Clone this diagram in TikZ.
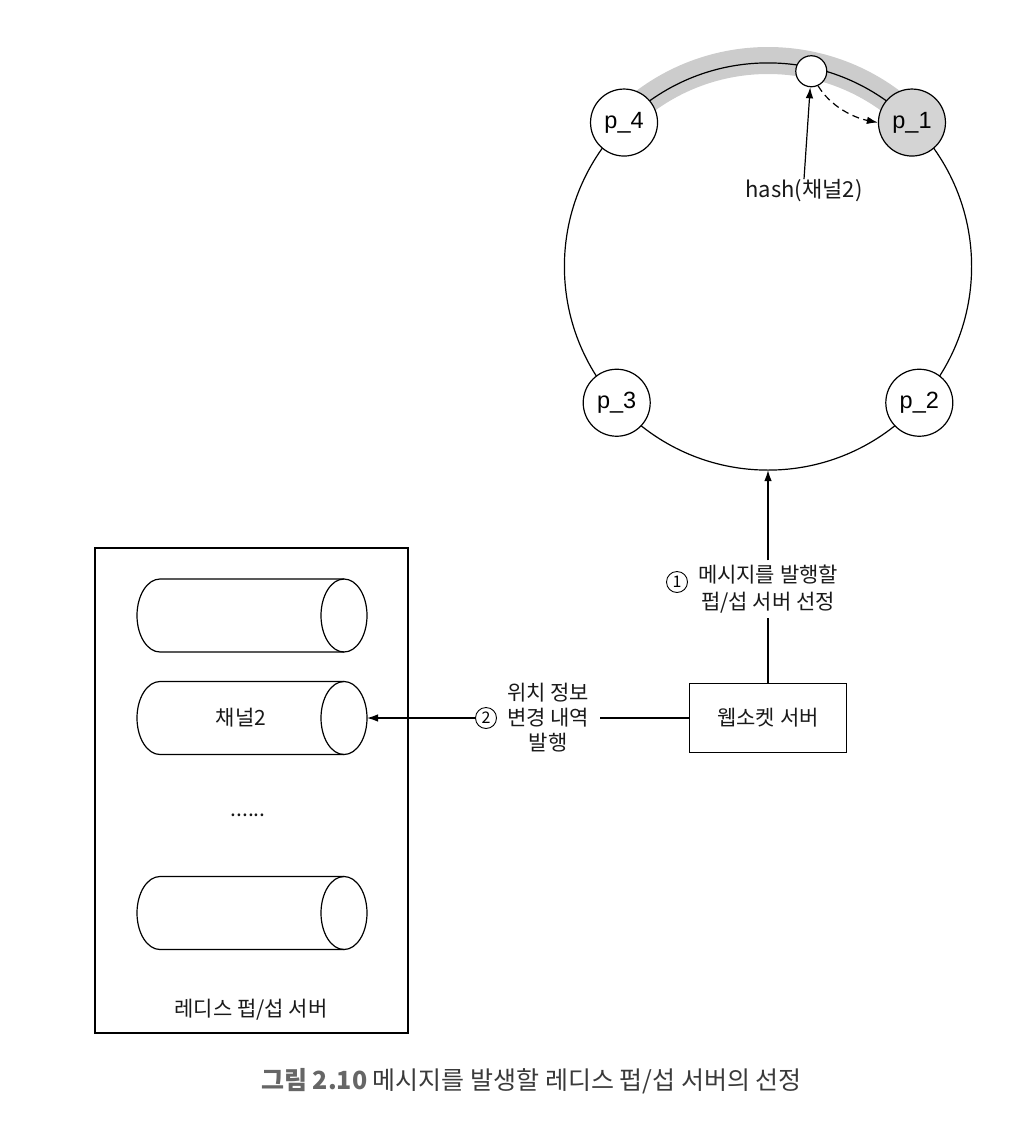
\documentclass[tikz,border=0pt]{standalone}
\usepackage{fontspec}
\setmainfont{Noto Sans CJK KR}
\newfontfamily\latf{Liberation Sans}
\usetikzlibrary{arrows.meta}
\definecolor{bandgray}{HTML}{CCCCCC}
\definecolor{pfill}{HTML}{D4D4D4}
\definecolor{capgray}{HTML}{666666}
\definecolor{captext}{HTML}{3A3A3A}
\newcommand\drawcyl[1]{%
  \draw (344,#1-36.5) -- (160,#1-36.5) arc[start angle=-90, end angle=-270, x radius=23, y radius=36.5] -- (344,#1+36.5);
  \draw (344,#1) ellipse[x radius=23, y radius=36.5];
}
\begin{document}
\begin{tikzpicture}[x=1pt,y=-1pt,
  line width=1.2pt,
  txt/.style={font=\fontsize{21}{26}\selectfont, inner sep=0pt, text=black!90},
  pnode/.style={circle, draw, fill=white, minimum size=67pt, inner sep=0pt, font=\latf\fontsize{23.5}{26}\selectfont},
  cnum/.style={circle, draw, line width=0.9pt, minimum size=21pt, inner sep=0pt, font=\fontsize{16}{18}\selectfont},
  arr/.style={-{Latex[length=11pt,width=7.5pt]}},
  boxnode/.style={draw, inner sep=0pt}]
\useasboundingbox (0,0) rectangle (1024,1125);
% ring
\coordinate (rc) at (768,266.5);
\fill[bandgray] ([shift={(-135:219.5)}]rc) arc[start angle=-135, end angle=-45, radius=219.5]
  -- ([shift={(-45:192.5)}]rc) arc[start angle=-45, end angle=-135, radius=192.5] -- cycle;
\draw (rc) circle[radius=203.6];
\node[pnode] (p4) at ([shift={(-135:203.6)}]rc) {p\_4};
\node[pnode, fill=pfill] (p1) at ([shift={(-45:203.6)}]rc) {p\_1};
\node[pnode] (p3) at ([shift={(138:203.6)}]rc) {p\_3};
\node[pnode] (p2) at ([shift={(42:203.6)}]rc) {p\_2};
\node[circle, draw, fill=white, minimum size=31pt, inner sep=0pt] (sm) at ([shift={(-77.5:200)}]rc) {};
\coordinate (rb) at ([shift={(90:203.6)}]rc);
% hash label
\node[txt, font=\fontsize{22}{26}\selectfont] (hash) at (804,191) {hash(채널2)};
\draw[arr] (hash.north) -- (sm);
\draw[arr, dash pattern=on 7pt off 4.5pt] (sm.-65) .. controls +(12,20) and +(-25,-5) .. (p1.west);
% websocket server
\node[boxnode, txt, draw=black, minimum width=157pt, minimum height=69pt] (ws) at (768,718) {웹소켓 서버};
% label 1
\node[txt, fill=white, inner xsep=2pt, inner ysep=4pt, align=center, font=\fontsize{21}{27}\selectfont] (l1) at (768,589) {메시지를 발행할\\펍/섭 서버 선정};
\node[cnum] (c1) at (677,582) {1};
\draw (ws.north) -- (l1.south);
\draw[arr] (l1.north) -- (rb);
% redis box
\node[boxnode, minimum width=313pt, minimum height=485pt] (redis) at (251.5,790.5) {};
\drawcyl{615.5}
\drawcyl{718}
\drawcyl{913}
\coordinate (cyl2e) at (367,718);
\node[txt] (ch2) at (241,718) {채널2};
\node[txt] (dots) at (248,815) {......};
\node[txt] (redislbl) at (251,1010) {레디스 펍/섭 서버};
% label 2
\node[txt, align=center, inner xsep=10pt, inner ysep=2pt, font=\fontsize{21}{25}\selectfont] (l2) at (548,718) {위치 정보\\변경 내역\\발행};
\node[cnum] (c2) at (486,718) {2};
\draw (ws.west) -- (ws.west -| l2.east);
\draw[arr] (c2.west) -- (cyl2e);
% caption
\node[inner sep=0pt, font=\fontsize{25}{29}\selectfont, text=captext] (cap) at (531.5,1081) {\textcolor{capgray}{\textbf{그림 2.10}} 메시지를 발생할 레디스 펍/섭 서버의 선정};
\end{tikzpicture}
\end{document}
